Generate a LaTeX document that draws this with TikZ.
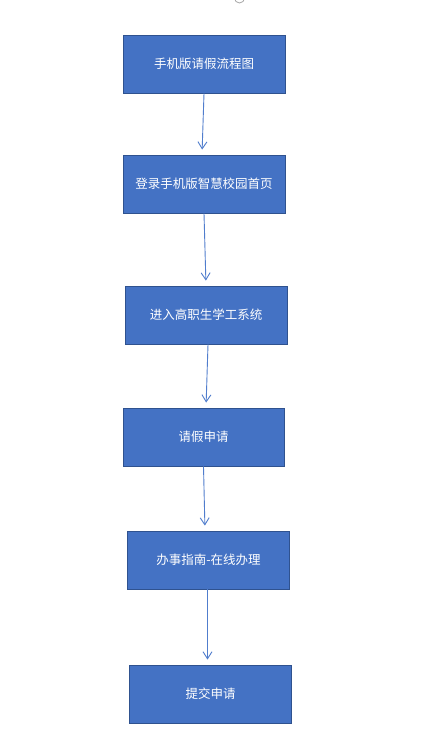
\documentclass[tikz,border=0pt]{standalone}
\usepackage{fontspec}
\setmainfont{Noto Sans CJK SC}
\usetikzlibrary{arrows.meta}
\definecolor{boxfill}{RGB}{68,114,196}
\definecolor{boxline}{RGB}{47,82,143}
\definecolor{arrowc}{RGB}{80,125,205}
\tikzset{
  stepbox/.style={draw=boxline, line width=0.9pt, fill=boxfill, text=white, font=\fontsize{12.5}{14}\selectfont, inner sep=0pt},
  flow/.style={draw=arrowc, line width=0.9pt, -{Straight Barb[length=7pt,width=9pt,line width=0.9pt]}, shorten >=5pt}
}
\begin{document}
\begin{tikzpicture}[x=1pt,y=-1pt]
\useasboundingbox (0,0) rectangle (444,756);
\fill[white] (0,0) rectangle (444,756);
\draw[gray!70, line width=0.8pt] (239.5,-2) circle (5);
\node[stepbox, minimum width=162pt, minimum height=58pt] (b1) at (204,64) {手机版请假流程图};
\node[stepbox, minimum width=162pt, minimum height=58pt] (b2) at (204,184) {登录手机版智慧校园首页};
\node[stepbox, minimum width=162pt, minimum height=58pt] (b3) at (206,315) {进入高职生学工系统};
\node[stepbox, minimum width=161pt, minimum height=58pt] (b4) at (203.5,437) {请假申请};
\node[stepbox, minimum width=162pt, minimum height=58pt] (b5) at (208.5,560) {办事指南-在线办理};
\node[stepbox, minimum width=162pt, minimum height=58pt] (b6) at (210.5,694) {提交申请};
\draw[flow] (b1.south) -- ([xshift=-2pt]b2.north);
\draw[flow] (b2.south) -- (b3.north);
\draw[flow] ([xshift=2pt]b3.south) -- ([xshift=2.5pt]b4.north);
\draw[flow] (b4.south) -- ([xshift=-3.5pt]b5.north);
\draw[flow] ([xshift=-1pt]b5.south) -- ([xshift=-3pt]b6.north);
\end{tikzpicture}
\end{document}
